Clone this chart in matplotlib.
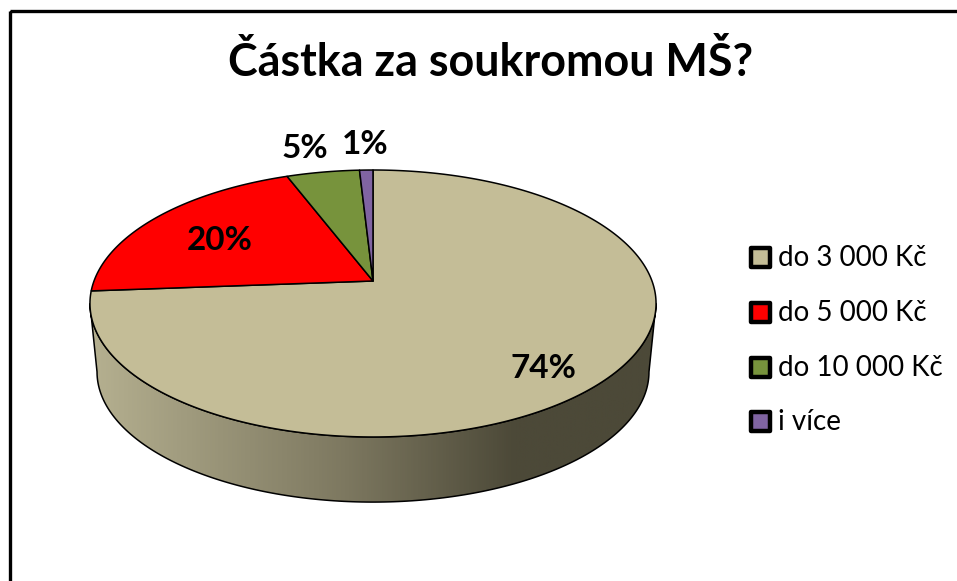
import numpy as np
import matplotlib
matplotlib.use("Agg")
import matplotlib.pyplot as plt
from matplotlib.colors import LinearSegmentedColormap
from matplotlib.patches import Polygon, Rectangle

title = "Částka za soukromou MŠ?"
categories = ["do 3 000 Kč", "do 5 000 Kč", "do 10 000 Kč", "i více"]
values = [73.8, 20.4, 4.9, 0.9]

colors = ["#c4bd97", "#ff0000", "#77933c", "#8064a2"]

plt.rcParams['font.family'] = ['Lato', 'DejaVu Sans']

# pie geometry in pixels, perspective fitted to the picture
cx, cy = 373, 281
R, K, C = 279, 129.7, 0.1685
S, DY = 0.975, 69


def project(ang, scale=1.0, dy=0):
    # ang is clockwise from 12 o'clock
    u, v = np.sin(ang), np.cos(ang)
    d = 1 + C * v
    return cx + scale * R * u / d, cy + dy - scale * K * v / d


fig = plt.figure(figsize=(9.57, 5.81), dpi=100)
ax = fig.add_axes([0, 0, 1, 1])
ax.set_xlim(0, 957)
ax.set_ylim(581, 0)
ax.axis("off")

# outer frame runs off the right and the bottom
ax.add_patch(Rectangle((10, 11.3), 990, 620, fill=False, ec="black", lw=2.4))

# side wall with the gradient
a_ext = np.pi - np.arccos(C)
front = np.linspace(a_ext, 2 * np.pi - a_ext, 200)
x1, y1 = project(front)
x2, y2 = project(front, S, DY)
side_pts = np.column_stack([np.r_[x1, x2[::-1]], np.r_[y1, y2[::-1]]])
side = Polygon(side_pts, closed=True, fc="none", ec="black", lw=1.1, zorder=2)
ax.add_patch(side)
cmap = LinearSegmentedColormap.from_list(
    "side", [(0, "#b5b090"), (0.45, "#7d7860"), (0.75, "#4c4938"), (1, "#4c4938")])
grad = np.linspace(0, 1, 600).reshape(1, -1)
im = ax.imshow(grad, cmap=cmap, extent=(90, 657, 510, 290), aspect="auto", zorder=1)
im.set_clip_path(side)
ax.set_xlim(0, 957)
ax.set_ylim(581, 0)

# top face
start = 0
fracs = np.array(values) / sum(values)
for frac, col in zip(fracs, colors):
    ang = np.linspace(start, start + frac * 2 * np.pi, max(int(frac * 400), 4))
    x, y = project(ang)
    pts = np.column_stack([np.r_[cx, x], np.r_[cy, y]])
    ax.add_patch(Polygon(pts, closed=True, fc=col, ec="black", lw=1.1, zorder=3,
                         joinstyle="round"))
    start += frac * 2 * np.pi

label_xy = [(543, 369), (220, 240), (305, 148), (365, 144)]
for val, (lx, ly) in zip(values, label_xy):
    ax.text(lx, ly, "%d%%" % round(val), fontsize=24, fontweight="bold",
            ha="center", va="center", color="black", zorder=4)

ax.text(491, 62, title, fontsize=32.3, fontweight="bold", ha="center", va="center")

# legend
rows = [257, 312, 367, 421]
for name, col, yy in zip(categories, colors, rows):
    ax.add_patch(Rectangle((750.5, yy - 9.5), 19, 19, fc=col, ec="black", lw=3.2,
                           joinstyle="round"))
    ax.text(778, yy + 1, name, fontsize=20, ha="left", va="center", color="black")

fig.savefig("out.png", dpi=100)
